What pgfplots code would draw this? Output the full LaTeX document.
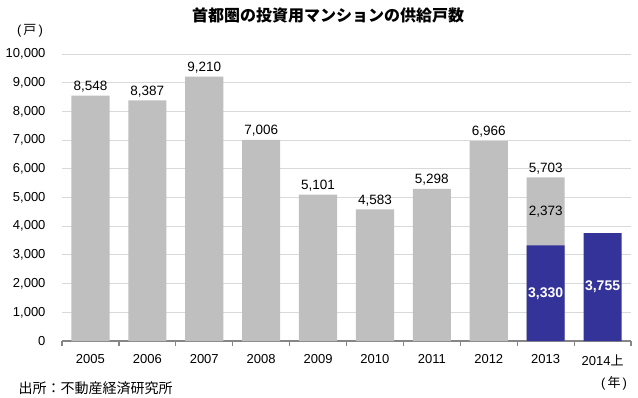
\documentclass[border=0pt]{standalone}
\usepackage{pgfplots}
\pgfplotsset{compat=1.18}
\usepackage{fontspec}
\setmainfont{Liberation Sans}
\newfontfamily\cjk{Noto Sans CJK JP}
\definecolor{barGray}{RGB}{191,191,191}
\definecolor{barBlue}{RGB}{51,51,153}
\definecolor{gridGray}{RGB}{217,217,217}
\definecolor{axisGray}{RGB}{134,134,134}
\begin{document}
\begin{tikzpicture}[x=1bp,y=1bp]
\useasboundingbox (-62,-56) rectangle (576,341);
\begin{axis}[
  at={(0,0)}, anchor=south west,
  scale only axis, width=569bp, height=287bp,
  xmin=-0.5, xmax=9.5, ymin=0, ymax=10000,
  ytick={0,1000,...,10000},
  scaled y ticks=false,
  xtick={0,...,9},
  xticklabels={2005,2006,2007,2008,2009,2010,2011,2012,2013,{2014{\cjk 上}}},
  minor xtick={-0.5,0.5,...,9.5},
  ymajorgrids,
  major grid style={draw=gridGray, line width=0.9bp},
  axis x line*=bottom, axis y line*=left,
  y axis line style={draw=none},
  x axis line style={draw=axisGray, line width=1.6bp},
  major tick length=0pt, minor tick length=5bp, tick align=outside,
  minor tick style={draw=axisGray, line width=1.2bp},
  tick label style={font=\fontsize{13bp}{15bp}\selectfont},
  yticklabel style={xshift=-13bp},
  xticklabel style={yshift=-10bp},
  /pgf/number format/1000 sep={,},
  /pgf/number format/assume math mode=true,
  clip=false,
]
\addplot[ybar, bar width=0.67, bar shift=0pt, fill=barGray, draw=none,
  nodes near coords,
  every node near coord/.append style={font=\fontsize{13.5bp}{15bp}\selectfont, black}]
  coordinates {(0,8548) (1,8387) (2,9210) (3,7006) (4,5101) (5,4583) (6,5298) (7,6966) (8,5703)};
\addplot[ybar, bar width=0.67, bar shift=0pt, fill=barBlue, draw=none]
  coordinates {(8,3330) (9,3755)};
\addplot[draw=none, nodes near coords, point meta=explicit symbolic,
  every node near coord/.append style={anchor=center, font=\fontsize{13.5bp}{15bp}\selectfont, black}]
  coordinates {(8,4516.5) [2,373]};
\addplot[draw=none, nodes near coords, point meta=explicit symbolic,
  every node near coord/.append style={anchor=center, font=\bfseries\fontsize{14bp}{15bp}\selectfont, white}]
  coordinates {(8,1665) [3,330] (9,1877.5) [3,755]};
\end{axis}
\node[font=\cjk\bfseries\fontsize{16bp}{18bp}\selectfont] at (266,326) {首都圏の投資用マンションの供給戸数};
\node[font=\fontsize{13bp}{15bp}\selectfont] at (-32,310) {(\,{\cjk 戸}\,)};
\node[font=\cjk\fontsize{14bp}{16bp}\selectfont, anchor=west] at (-47,-47) {出所：不動産経済研究所};
\node[font=\fontsize{13bp}{15bp}\selectfont] at (552,-42) {(\,{\cjk 年}\,)};
\end{tikzpicture}
\end{document}
